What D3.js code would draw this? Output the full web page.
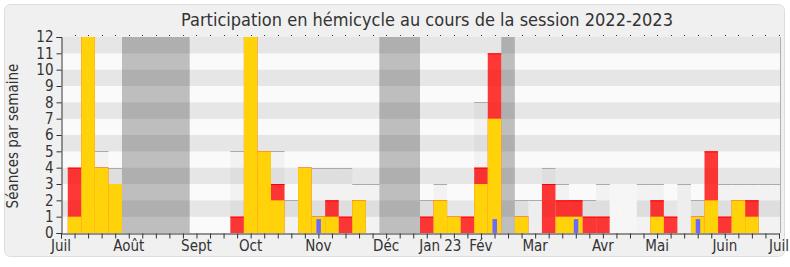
<!DOCTYPE html>
<html>
<head>
<meta charset="utf-8">
<script src="https://cdn.jsdelivr.net/npm/d3@7"></script>
<style>
  html, body { margin: 0; padding: 0; background: #ffffff; }
  svg { display: block; }
  text { font-family: "DejaVu Sans Condensed", "DejaVu Sans", sans-serif; fill: #333; }
</style>
</head>
<body>
<svg id="chart" width="790" height="267"></svg>
<script>
// ---- data (weeks 1..53 of the 2022-2023 session) ----
const weeks = d3.range(1, 54);
const presence      = [4,12,4,3,0,0,0,0,0,0,0,0,1,12,5,3,0,4,1,2,1,2,0,0,0,0,1,2,1,1,4,11,0,1,0,3,2,2,1,1,0,0,0,2,1,0,1,5,1,2,2,0,0];
const interventions = [1,12,4,3,0,0,0,0,0,0,0,0,0,12,5,2,0,4,1,1,0,2,0,0,0,0,0,2,1,0,3,7,0,1,0,0,1,1,0,0,0,0,0,1,0,0,1,2,0,2,1,0,0];
const questions     = [0,0,0,0,0,0,0,0,0,0,0,0,0,0,0,0,0,0,0.85,0,0,0,0,0,0,0,0,0,0,0,0,0.85,0,0,0,0,0,0.85,0,0,0,0,0,0,0,0,0.85,0,0,0,0,0,0];
const median        = [0,0,5,4,0,0,0,0,0,0,0,0,5,0,0,5,2,0,4,4,4,3,3,0,0,0,2,3,0,0,8,0,0,2,2,4,3,2,2,3,0,0,3,3,0,3,2,0,3,3,3,3,3];
const sessionsHeld  = [0,0,0,0,0,0,0,0,0,0,0,0,0,0,0,0,0,0,0,0,0,0,0,0,0,0,0,0,0,0,0,0,0,0,2,0,0,0,0,0,3,3,0,0,0,3,0,0,0,0,0,0,0];
const vacations     = [[5, 9], [24, 26], [33, 33]];
const monthLabels   = ["Juil","Août","Sept","Oct","Nov","Déc","Jan 23","Fév","Mar","Avr","Mai","Juin","Juil"];
const monthWeeks    = [0, 5, 10, 14, 19, 24, 28, 31, 35, 40, 44, 49, 53];
const yTicks        = d3.range(0, 13);
const title = "Participation en hémicycle au cours de la session 2022-2023";
const yTitle = "Séances par semaine";

// ---- layout ----
const svg = d3.select("#chart");
const L = 61, R = 780, T = 37, B = 233;
const x = d3.scaleLinear().domain([0, 53]).range([L, 779]);
const y = d3.scaleLinear().domain([0, 12]).range([B, T]);

// frame
svg.append("rect").attr("x", 4.5).attr("y", 4.5).attr("width", 780).attr("height", 252)
  .attr("rx", 6).attr("fill", "#f0f0f0").attr("stroke", "#dedede");

svg.append("defs").append("clipPath").attr("id", "plot")
  .append("rect").attr("x", L).attr("y", T).attr("width", R - L).attr("height", B - T);

const g = svg.append("g").attr("clip-path", "url(#plot)");

// stripes
g.selectAll("rect.stripe").data(d3.range(0, 12)).join("rect")
  .attr("x", L).attr("width", R - L)
  .attr("y", d => y(d + 1)).attr("height", d => y(d) - y(d + 1))
  .attr("fill", d => d % 2 === 0 ? "#fafafa" : "#e6e6e6");

const bw = x(1) - x(0);
const data = weeks.map((w, i) => ({w, p: presence[i], it: interventions[i], q: questions[i], m: median[i], s: sessionsHeld[i]}));

// sessions held (whitish)
g.selectAll("rect.ses").data(data.filter(d => d.s > 0)).join("rect")
  .attr("x", d => x(d.w - 0.5)).attr("width", bw)
  .attr("y", d => y(d.s)).attr("height", d => B - y(d.s))
  .attr("fill", "#f6f6f6");

// median bars
g.selectAll("rect.med").data(data.filter(d => d.m > 0)).join("rect")
  .attr("x", d => x(d.w - 0.5)).attr("width", bw)
  .attr("y", d => y(d.m)).attr("height", d => B - y(d.m))
  .attr("fill", "rgba(0,0,0,0.03)");
g.selectAll("line.med").data(data.filter(d => d.m > 0)).join("line")
  .attr("x1", d => x(d.w - 0.5)).attr("x2", d => x(d.w + 0.5))
  .attr("y1", d => Math.round(y(d.m)) + 0.5).attr("y2", d => Math.round(y(d.m)) + 0.5)
  .attr("stroke", "#aaaaaa");

// vacations
g.selectAll("rect.vac").data(vacations).join("rect")
  .attr("x", d => x(d[0] - 0.5)).attr("width", d => x(d[1] + 0.5) - x(d[0] - 0.5))
  .attr("y", T).attr("height", B - T)
  .attr("fill", "rgba(0,0,0,0.24)");

// presence (red)
g.selectAll("rect.pres").data(data.filter(d => d.p > 0)).join("rect")
  .attr("x", d => x(d.w - 0.5)).attr("width", bw)
  .attr("y", d => y(d.p)).attr("height", d => B - y(d.p))
  .attr("fill", "rgba(255,0,0,0.78)");
g.selectAll("line.pres").data(data.filter(d => d.p > 0)).join("line")
  .attr("x1", d => x(d.w - 0.5)).attr("x2", d => x(d.w + 0.5))
  .attr("y1", d => y(d.p) + 0.5).attr("y2", d => y(d.p) + 0.5)
  .attr("stroke", "#ff0000");

// interventions (yellow)
g.selectAll("rect.int").data(data.filter(d => d.it > 0)).join("rect")
  .attr("x", d => x(d.w - 0.5)).attr("width", bw)
  .attr("y", d => y(d.it)).attr("height", d => B - y(d.it))
  .attr("fill", "#ffd20a");

// questions (blue)
g.selectAll("rect.q").data(data.filter(d => d.q > 0)).join("rect")
  .attr("x", d => x(d.w) - 2).attr("width", 4.5)
  .attr("y", d => y(d.q)).attr("height", d => B - y(d.q))
  .attr("fill", "#6a6aff");

// right border
svg.append("line").attr("x1", R + 0.5).attr("x2", R + 0.5).attr("y1", T).attr("y2", B)
  .attr("stroke", "#b0b0b0");

// top dotted ticks
svg.selectAll("rect.topdot").data(d3.range(1, 54)).join("rect")
  .attr("x", d => Math.round(x(d))).attr("y", T - 2).attr("width", 1).attr("height", 1)
  .attr("fill", "#333");

// y axis
const yAxis = d3.axisLeft(y).tickValues(yTicks).tickSize(5).tickPadding(3).tickFormat(d3.format("d"));
const ya = svg.append("g").attr("transform", `translate(${L + 0.5},0)`).call(yAxis);
ya.select(".domain").attr("stroke", "#333");
ya.selectAll(".tick line").attr("stroke", "#333");
ya.selectAll(".tick text").attr("font-size", 15).attr("fill", "#333")
  .style("font-family", '"DejaVu Sans Condensed","DejaVu Sans",sans-serif');

// x axis
const xAxis = d3.axisBottom(x).tickValues(d3.range(0, 54)).tickSize(5).tickFormat(() => "");
const xa = svg.append("g").attr("transform", `translate(0,${B + 0.5})`).call(xAxis);
xa.select(".domain").attr("stroke", "#333");
xa.selectAll(".tick line").attr("stroke", "#333");

svg.append("g").selectAll("text").data(monthLabels).join("text")
  .attr("x", (d, i) => x(monthWeeks[i]))
  .attr("y", 251)
  .attr("text-anchor", "middle")
  .attr("font-size", 15)
  .text(d => d);

// titles
svg.append("text").attr("x", 427).attr("y", 26).attr("text-anchor", "middle")
  .attr("font-size", 18).text(title);
svg.append("text").attr("transform", `translate(18,136) rotate(-90)`).attr("text-anchor", "middle")
  .attr("font-size", 15).text(yTitle);
</script>
</body>
</html>
